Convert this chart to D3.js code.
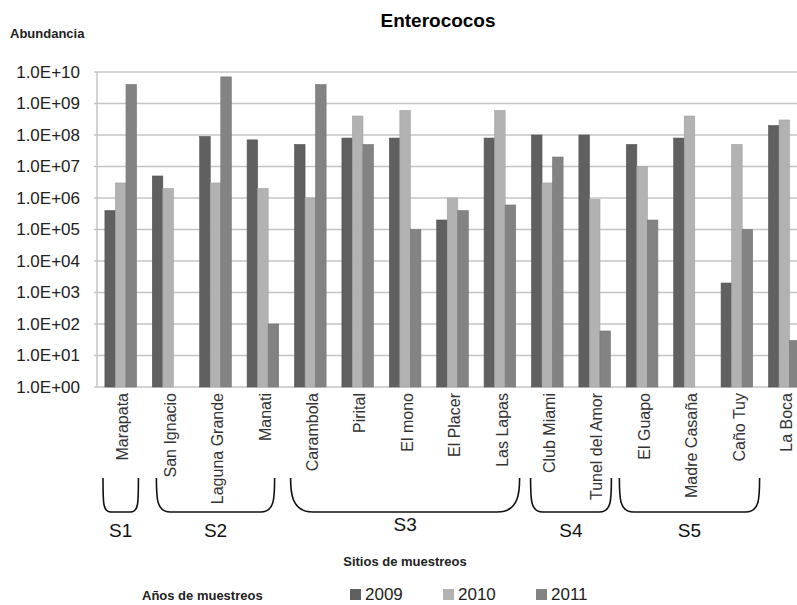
<!DOCTYPE html>
<html>
<head>
<meta charset="utf-8">
<script src="https://cdn.jsdelivr.net/npm/d3@7"></script>
<style>
  body { margin: 0; background: #fff; }
  svg { display: block; overflow: hidden; }
</style>
</head>
<body>
<div id="chart"></div>
<script>
const w = 797;
const h = 605;
const plotLeft = 97, plotTop = 72, plotBottom = 387, plotRight = 808;

// data
const sites = ["Marapata", "San Ignacio", "Laguna Grande", "Manati", "Carambola", "Pirital",
    "El mono", "El Placer", "Las Lapas", "Club Miami", "Tunel del Amor", "El Guapo",
    "Madre Casaña", "Caño Tuy", "La Boca"];
const years = ["2009", "2010", "2011"];
const v2009 = [4e5, 5e6, 9e7, 7e7, 5e7, 8e7, 8e7, 2e5, 8e7, 1e8, 1e8, 5e7, 8e7, 2e3, 2e8];
const v2010 = [3e6, 2e6, 3e6, 2e6, 1e6, 4e8, 6e8, 1e6, 6e8, 3e6, 9e5, 1e7, 4e8, 5e7, 3e8];
const v2011 = [4e9, null, 7e9, 1e2, 4e9, 5e7, 1e5, 4e5, 6e5, 2e7, 6e1, 2e5, null, 1e5, 3e1];
const yTicks = [1e0, 1e1, 1e2, 1e3, 1e4, 1e5, 1e6, 1e7, 1e8, 1e9, 1e10];
const groups = ["S1", "S2", "S3", "S4", "S5"];
const groupFirst = [0, 1, 4, 9, 11];
const groupLast = [0, 3, 8, 10, 13];

const colors = {"2009": "#606060", "2010": "#b2b2b2", "2011": "#838383"};
const series = [v2009, v2010, v2011];

const svg = d3.select("#chart").append("svg").attr("width", w).attr("height", h);

const x = d3.scaleBand().domain(sites).range([plotLeft, plotRight]).paddingInner(0.333).paddingOuter(0.1667);
const xYear = d3.scaleBand().domain(years).range([0, x.bandwidth()]);
const y = d3.scaleLog().domain([1, 1e10]).range([plotBottom, plotTop]);

// grid
svg.append("g").selectAll("line").data(yTicks).enter().append("line")
    .attr("x1", plotLeft - 3).attr("x2", plotRight)
    .attr("y1", d => y(d)).attr("y2", d => y(d))
    .attr("stroke", "#c4c4c4").attr("stroke-width", 1.5);
svg.append("line").attr("x1", plotLeft).attr("x2", plotLeft).attr("y1", plotTop).attr("y2", plotBottom)
    .attr("stroke", "#c4c4c4").attr("stroke-width", 1.5);

// y labels
const fmt = d => "1.0E+" + String(Math.round(Math.log10(d))).padStart(2, "0");
svg.append("g").selectAll("text").data(yTicks).enter().append("text")
    .attr("x", 80).attr("y", d => y(d)).attr("dy", "0.35em")
    .attr("text-anchor", "end")
    .style("font-family", "Liberation Sans, Arial, sans-serif").style("font-size", "17px")
    .attr("fill", "#222").text(fmt);

// bars
const rows = [];
sites.forEach((s, i) => years.forEach((yr, j) => {
    if (series[j][i] != null) rows.push({site: s, year: yr, value: series[j][i]});
}));
svg.append("g").selectAll("rect").data(rows).enter().append("rect")
    .attr("x", d => x(d.site) + xYear(d.year))
    .attr("width", xYear.bandwidth())
    .attr("y", d => y(d.value))
    .attr("height", d => plotBottom - y(d.value))
    .attr("fill", d => colors[d.year])
    .attr("stroke", d => d3.color(colors[d.year]).darker(0.3))
    .attr("stroke-width", 0.6);

// x labels
svg.append("g").selectAll("text").data(sites).enter().append("text")
    .attr("transform", d => "translate(" + (x(d) + x.bandwidth() / 2 + 2) + "," + (plotBottom + 6) + ")rotate(-90)")
    .attr("text-anchor", "end").attr("dy", "0.35em")
    .style("font-family", "Liberation Sans, Arial, sans-serif").style("font-size", "16px")
    .attr("fill", "#333").text(d => d);

// brackets
const bTop = 478, bBot = 512;
const pad = [6, 12, 4, 7, 1];
const rad = [8, 14, 22, 12, 14];
groups.forEach((g, i) => {
    const x0 = x(sites[groupFirst[i]]) - x.step() * x.paddingOuter() + pad[i];
    const x1 = x(sites[groupLast[i]]) + x.bandwidth() + x.step() * x.paddingOuter() - pad[i];
    const r = rad[i];
    svg.append("path")
        .attr("d", "M" + x0 + "," + bTop + " C" + x0 + "," + (bBot - r) + " " + x0 + "," + bBot + " " + (x0 + r) + "," + bBot +
            " L" + (x1 - r) + "," + bBot + " C" + x1 + "," + bBot + " " + x1 + "," + (bBot - r) + " " + x1 + "," + bTop)
        .attr("fill", "none").attr("stroke", "#111").attr("stroke-width", 1.6);
    svg.append("text")
        .attr("x", (x0 + x1) / 2).attr("y", i == 2 ? 531 : 537)
        .attr("text-anchor", "middle")
        .style("font-family", "Liberation Sans, Arial, sans-serif").style("font-size", "19px")
        .attr("fill", "#111").text(g);
});

// titles
svg.append("text").attr("x", 438).attr("y", 27).attr("text-anchor", "middle")
    .style("font-family", "Liberation Sans, Arial, sans-serif").style("font-size", "19px").style("font-weight", "bold")
    .text("Enterococos");
svg.append("text").attr("x", 10).attr("y", 38)
    .style("font-family", "Liberation Sans, Arial, sans-serif").style("font-size", "13px").style("font-weight", "bold")
    .attr("fill", "#222").text("Abundancia");
svg.append("text").attr("x", 405).attr("y", 566).attr("text-anchor", "middle")
    .style("font-family", "Liberation Sans, Arial, sans-serif").style("font-size", "13px").style("font-weight", "bold")
    .attr("fill", "#222").text("Sitios de muestreos");
svg.append("text").attr("x", 142).attr("y", 600)
    .style("font-family", "Liberation Sans, Arial, sans-serif").style("font-size", "13px").style("font-weight", "bold")
    .attr("fill", "#222").text("Años de muestreos");

// legend
const legX = d3.scalePoint().domain(years).range([350, 536]);
const leg = svg.append("g").selectAll("g").data(years).enter().append("g")
    .attr("transform", d => "translate(" + legX(d) + ",0)");
leg.append("rect").attr("x", 0).attr("y", 589).attr("width", 11).attr("height", 11)
    .attr("fill", d => colors[d]);
leg.append("text").attr("x", 15).attr("y", 600)
    .style("font-family", "Liberation Sans, Arial, sans-serif").style("font-size", "17px")
    .attr("fill", "#222").text(d => d);
</script>
</body>
</html>
